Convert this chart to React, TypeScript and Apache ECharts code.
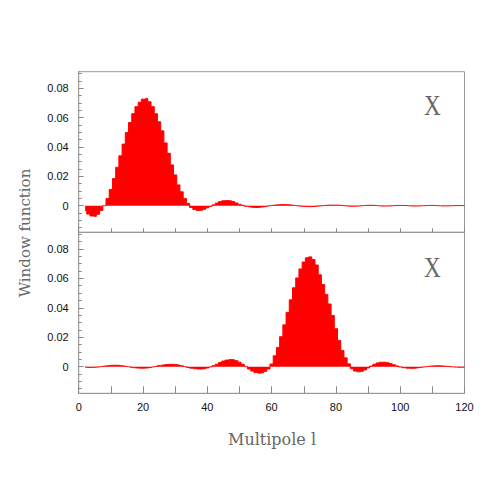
import React, { useEffect, useRef } from "react";
import * as echarts from "echarts";

// Multipole values l = 2 .. 120 (one bin per integer multipole)
const multipoles: number[] = Array.from({ length: 119 }, (_, i) => i + 2);

// Window function, top panel (l = 2..120)
const windowTop: number[] = [
  -0.0034, -0.0057, -0.0070, -0.0072, -0.0058, -0.0033, 0.0000,
  0.0050, 0.0110, 0.0185, 0.0262, 0.0340, 0.0420, 0.0498, 0.0567, 0.0627,
  0.0675, 0.0705, 0.0726, 0.0730, 0.0708, 0.0675, 0.0627, 0.0572, 0.0510,
  0.0428, 0.0357, 0.0278, 0.0210, 0.0142, 0.0095, 0.0050, 0.0015,
  -0.0012, -0.0026, -0.0032, -0.0031, -0.0024, -0.0014, -0.0004,
  0.0006, 0.0018, 0.0028, 0.0034, 0.0036, 0.0034, 0.0028, 0.0019, 0.0010, 0.0003,
  -0.0004, -0.0008, -0.0011, -0.0012, -0.0011, -0.0008, -0.0005, -0.0001,
  0.0002, 0.0005, 0.0007, 0.0008, 0.0008, 0.0007, 0.0005, 0.0002,
  -0.0001, -0.0003, -0.0005, -0.0006, -0.0006, -0.0005, -0.0003, -0.0001,
  0.0001, 0.0003, 0.0004, 0.0004, 0.0004, 0.0003, 0.0001,
  -0.0001, -0.0003, -0.0003, -0.0003, -0.0002, 0.0000,
  0.0002, 0.0003, 0.0003, 0.0002, 0.0000,
  -0.0002, -0.0002, -0.0002, -0.0001,
  0.0001, 0.0002, 0.0002, 0.0002, 0.0001,
  -0.0001, -0.0002, -0.0002, -0.0001, 0.0000,
  0.0001, 0.0002, 0.0002, 0.0001, 0.0000,
  -0.0001, -0.0001, -0.0001, 0.0000,
  0.0001, 0.0001, 0.0001, 0.0000,
];

// Window function, bottom panel (l = 2..120)
const windowBottom: number[] = [
  -0.0004, -0.0005, -0.0005, -0.0004, -0.0002,
  0.0001, 0.0004, 0.0007, 0.0009, 0.0010, 0.0009, 0.0007, 0.0004, 0.0000,
  -0.0004, -0.0007, -0.0009, -0.0010, -0.0010, -0.0009, -0.0006, -0.0002,
  0.0002, 0.0007, 0.0011, 0.0014, 0.0016, 0.0016, 0.0015, 0.0011, 0.0006, 0.0000,
  -0.0005, -0.0010, -0.0014, -0.0016, -0.0016, -0.0014, -0.0009, -0.0002,
  0.0007, 0.0017, 0.0028, 0.0038, 0.0045, 0.0048, 0.0047, 0.0041, 0.0030, 0.0016, 0.0000,
  -0.0016, -0.0030, -0.0040, -0.0044, -0.0042, -0.0032, -0.0016,
  0.0018, 0.0074, 0.0131, 0.0204, 0.0284, 0.0369, 0.0454, 0.0536, 0.0603,
  0.0664, 0.0711, 0.0740, 0.0746, 0.0728, 0.0691, 0.0624, 0.0558, 0.0491,
  0.0426, 0.0348, 0.0258, 0.0178, 0.0110, 0.0060, 0.0019,
  -0.0014, -0.0030, -0.0035, -0.0032, -0.0022, -0.0009,
  0.0004, 0.0016, 0.0025, 0.0030, 0.0030, 0.0027, 0.0021, 0.0013, 0.0005,
  -0.0002, -0.0007, -0.0010, -0.0011, -0.0011, -0.0009, -0.0006, -0.0003, 0.0000,
  0.0003, 0.0005, 0.0006, 0.0006, 0.0005, 0.0003, 0.0001,
  -0.0001, -0.0003, -0.0004, -0.0004, -0.0003,
];

const yMajor: number[] = [0, 0.02, 0.04, 0.06, 0.08];
const yMinor: number[] = [
  -0.015, -0.01, -0.005, 0, 0.005, 0.01, 0.015, 0.02, 0.025, 0.03, 0.035,
  0.04, 0.045, 0.05, 0.055, 0.06, 0.065, 0.07, 0.075, 0.08, 0.085, 0.09,
];
const yMin = -0.0181;
const yMax = 0.0913;
const panelLabel = "X";
const xTitle = "Multipole l";
const yTitle = "Window function";

const FRAME = "#999999";
const TICK = "#888888";

function pairs(vals: number[]) {
  return multipoles.map((l, i) => [l, vals[i]]);
}

export default function App() {
  const ref = useRef<HTMLDivElement>(null);
  useEffect(() => {
    if (!ref.current) return;
    const chart = echarts.init(ref.current, undefined, { renderer: "svg" });
    const gridL = 78.7;
    const gridW = 385.8;
    const tops = [71.7, 232.3];
    const heights = [160.6, 161];

    const xAxisFor = (gi: number, showLabels: boolean, tickLen: number) => ({
      type: "value" as const,
      gridIndex: gi,
      min: 0,
      max: 120,
      interval: 10,
      axisLine: { show: true, onZero: false, lineStyle: { color: FRAME, width: 1 } },
      axisTick: { show: true, inside: true, length: tickLen, lineStyle: { color: TICK } },
      axisLabel: {
        show: showLabels,
        margin: 8,
        color: "#111",
        fontFamily: "Liberation Sans",
        fontSize: 11,
        formatter: (v: number) => (v % 20 === 0 ? String(v) : ""),
      },
      splitLine: { show: false },
    });

    const yAxesFor = (gi: number) => [
      {
        type: "value" as const,
        gridIndex: gi,
        min: yMin,
        max: yMax,
        axisLine: { show: true, onZero: false, lineStyle: { color: FRAME, width: 1 } },
        axisTick: {
          show: true,
          inside: true,
          length: 5,
          customValues: yMajor,
          lineStyle: { color: TICK },
        },
        axisLabel: {
          show: true,
          customValues: yMajor,
          margin: 10,
          color: "#111",
          fontFamily: "Liberation Sans",
          fontSize: 11,
          formatter: (v: number) => (Math.abs(v) < 1e-9 ? "0" : v.toFixed(2)),
        },
        splitLine: { show: false },
      },
      {
        type: "value" as const,
        gridIndex: gi,
        min: yMin,
        max: yMax,
        position: "left" as const,
        axisLine: { show: false, onZero: false },
        axisTick: {
          show: true,
          inside: true,
          length: 3,
          customValues: yMinor,
          lineStyle: { color: TICK },
        },
        axisLabel: { show: false },
        splitLine: { show: false },
      },
    ];

    const seriesFor = (vals: number[], xi: number, yi: number) => ({
      type: "line" as const,
      xAxisIndex: xi,
      yAxisIndex: yi,
      step: "middle" as const,
      symbol: "none",
      data: pairs(vals),
      lineStyle: { color: "#ff0000", width: 1 },
      areaStyle: { color: "#ff0000", opacity: 1 },
      itemStyle: { color: "#ff0000" },
      clip: true,
      z: 1,
    });

    chart.setOption({
      animation: false,
      grid: tops.map((t, i) => ({
        left: gridL,
        top: t,
        width: gridW,
        height: heights[i],
        show: true,
        borderColor: FRAME,
        borderWidth: 1,
        backgroundColor: "transparent",
      })),
      xAxis: [xAxisFor(0, false, 4), xAxisFor(1, true, 7)],
      yAxis: [...yAxesFor(0), ...yAxesFor(1)],
      series: [seriesFor(windowTop, 0, 0), seriesFor(windowBottom, 1, 2)],
      graphic: [
        {
          type: "text",
          left: 424,
          top: 91,
          style: {
            text: panelLabel,
            font: "29px 'Liberation Serif'",
            fill: "#666",
          },
          scaleX: 0.8,
        },
        {
          type: "text",
          left: 424,
          top: 253,
          style: {
            text: panelLabel,
            font: "29px 'Liberation Serif'",
            fill: "#666",
          },
          scaleX: 0.8,
        },
        {
          type: "text",
          x: 272,
          y: 439,
          style: {
            text: xTitle,
            font: "16px 'DejaVu Serif'",
            fill: "#666",
            align: "center",
            verticalAlign: "middle",
          },
        },
        {
          type: "text",
          x: 25,
          y: 233,
          rotation: Math.PI / 2,
          style: {
            text: yTitle,
            font: "15px 'DejaVu Serif'",
            fill: "#666",
            align: "center",
            verticalAlign: "middle",
          },
        },
      ],
    });
    return () => chart.dispose();
  }, []);
  return (
    <div
      ref={ref}
      style={{ position: "absolute", left: 0, top: 0, width: 491, height: 491 }}
    />
  );
}
